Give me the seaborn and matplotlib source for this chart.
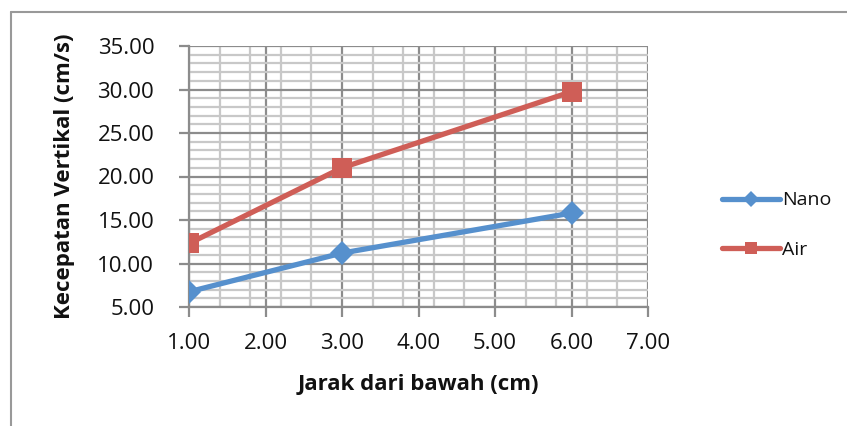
import matplotlib
matplotlib.use("Agg")
import matplotlib.pyplot as plt
from matplotlib.ticker import MultipleLocator, FormatStrFormatter
from matplotlib.lines import Line2D
import seaborn as sns
import pandas as pd

# Data
jarak = [1.0, 3.0, 6.0]
nano = [6.75, 11.2, 15.8]
air = [12.3, 21.0, 29.75]
series_names = ["Nano", "Air"]

sns.set_theme(style="white")
plt.rcParams['font.family'] = ['Open Sans', 'DejaVu Sans']

df = pd.DataFrame({
    "x": jarak * 2,
    "y": nano + air,
    "seri": [series_names[0]] * len(jarak) + [series_names[1]] * len(jarak),
})

fig = plt.figure(figsize=(8.47, 4.26), dpi=100)
ax = fig.add_axes([189/847, 1-307/426, (648-189)/847, (307-46)/426])

colors = {"Nano": "#5690CD", "Air": "#CF5E57"}
markers = {"Nano": "D", "Air": "s"}
sizes = {"Nano": 12.5, "Air": 14}
for name in series_names:
    sub = df[df["seri"] == name]
    sns.lineplot(data=sub, x="x", y="y", ax=ax, color=colors[name], lw=3.8,
                 marker=markers[name], markersize=sizes[name], markeredgewidth=0,
                 zorder=5, legend=False)

ax.set_xlim(1, 7)
ax.set_ylim(5, 35)
ax.xaxis.set_major_locator(MultipleLocator(1))
ax.xaxis.set_minor_locator(MultipleLocator(0.4, offset=0.2))
ax.yaxis.set_major_locator(MultipleLocator(5))
ax.yaxis.set_minor_locator(MultipleLocator(1))
ax.xaxis.set_major_formatter(FormatStrFormatter('%.2f'))
ax.yaxis.set_major_formatter(FormatStrFormatter('%.2f'))

ax.grid(which='major', color='#8c8c8c', lw=1.6, zorder=1)
ax.grid(which='minor', color='#c8c8c8', lw=1.6, zorder=0)
ax.set_axisbelow(True)
for s in ['top', 'right']:
    ax.spines[s].set_visible(False)
for s in ['left', 'bottom']:
    ax.spines[s].set_color('#8c8c8c')
    ax.spines[s].set_linewidth(1.6)

ax.tick_params(axis='y', which='major', direction='out', length=7, width=1.6,
               color='#8c8c8c', labelsize=16, labelcolor='#111111', pad=18, left=True)
ax.tick_params(axis='x', which='major', direction='out', length=7, width=1.6,
               color='#8c8c8c', labelsize=16, labelcolor='#111111', pad=12, bottom=True)
ax.tick_params(axis='both', which='minor', length=0)

ax.set_xlabel("Jarak dari bawah (cm)", fontsize=16, fontweight='bold', labelpad=14,
              color='#111111')
ax.set_ylabel("Kecepatan Vertikal (cm/s)", fontsize=16, fontweight='bold', labelpad=16,
              color='#111111')

handles = [Line2D([0], [0], color=colors[n], lw=3.8, marker=markers[n],
                  markersize=sizes[n] * 0.65, markeredgewidth=0) for n in series_names]
fig.legend(handles, series_names, loc='center left', bbox_to_anchor=(714/847, 1-225/426),
           frameon=False, fontsize=14, handlelength=3.0, handletextpad=0.1,
           labelspacing=1.6, borderaxespad=0, labelcolor='#111111')

# chart frame (partial, as in the reference)
fig.add_artist(Line2D([11/847, 11/847], [0, 1-12/426], color='#999999', lw=1.5,
                      transform=fig.transFigure))
fig.add_artist(Line2D([11/847, 1], [1-12/426, 1-12/426], color='#999999', lw=1.5,
                      transform=fig.transFigure))

fig.savefig("out.png", dpi=100, facecolor='white')
